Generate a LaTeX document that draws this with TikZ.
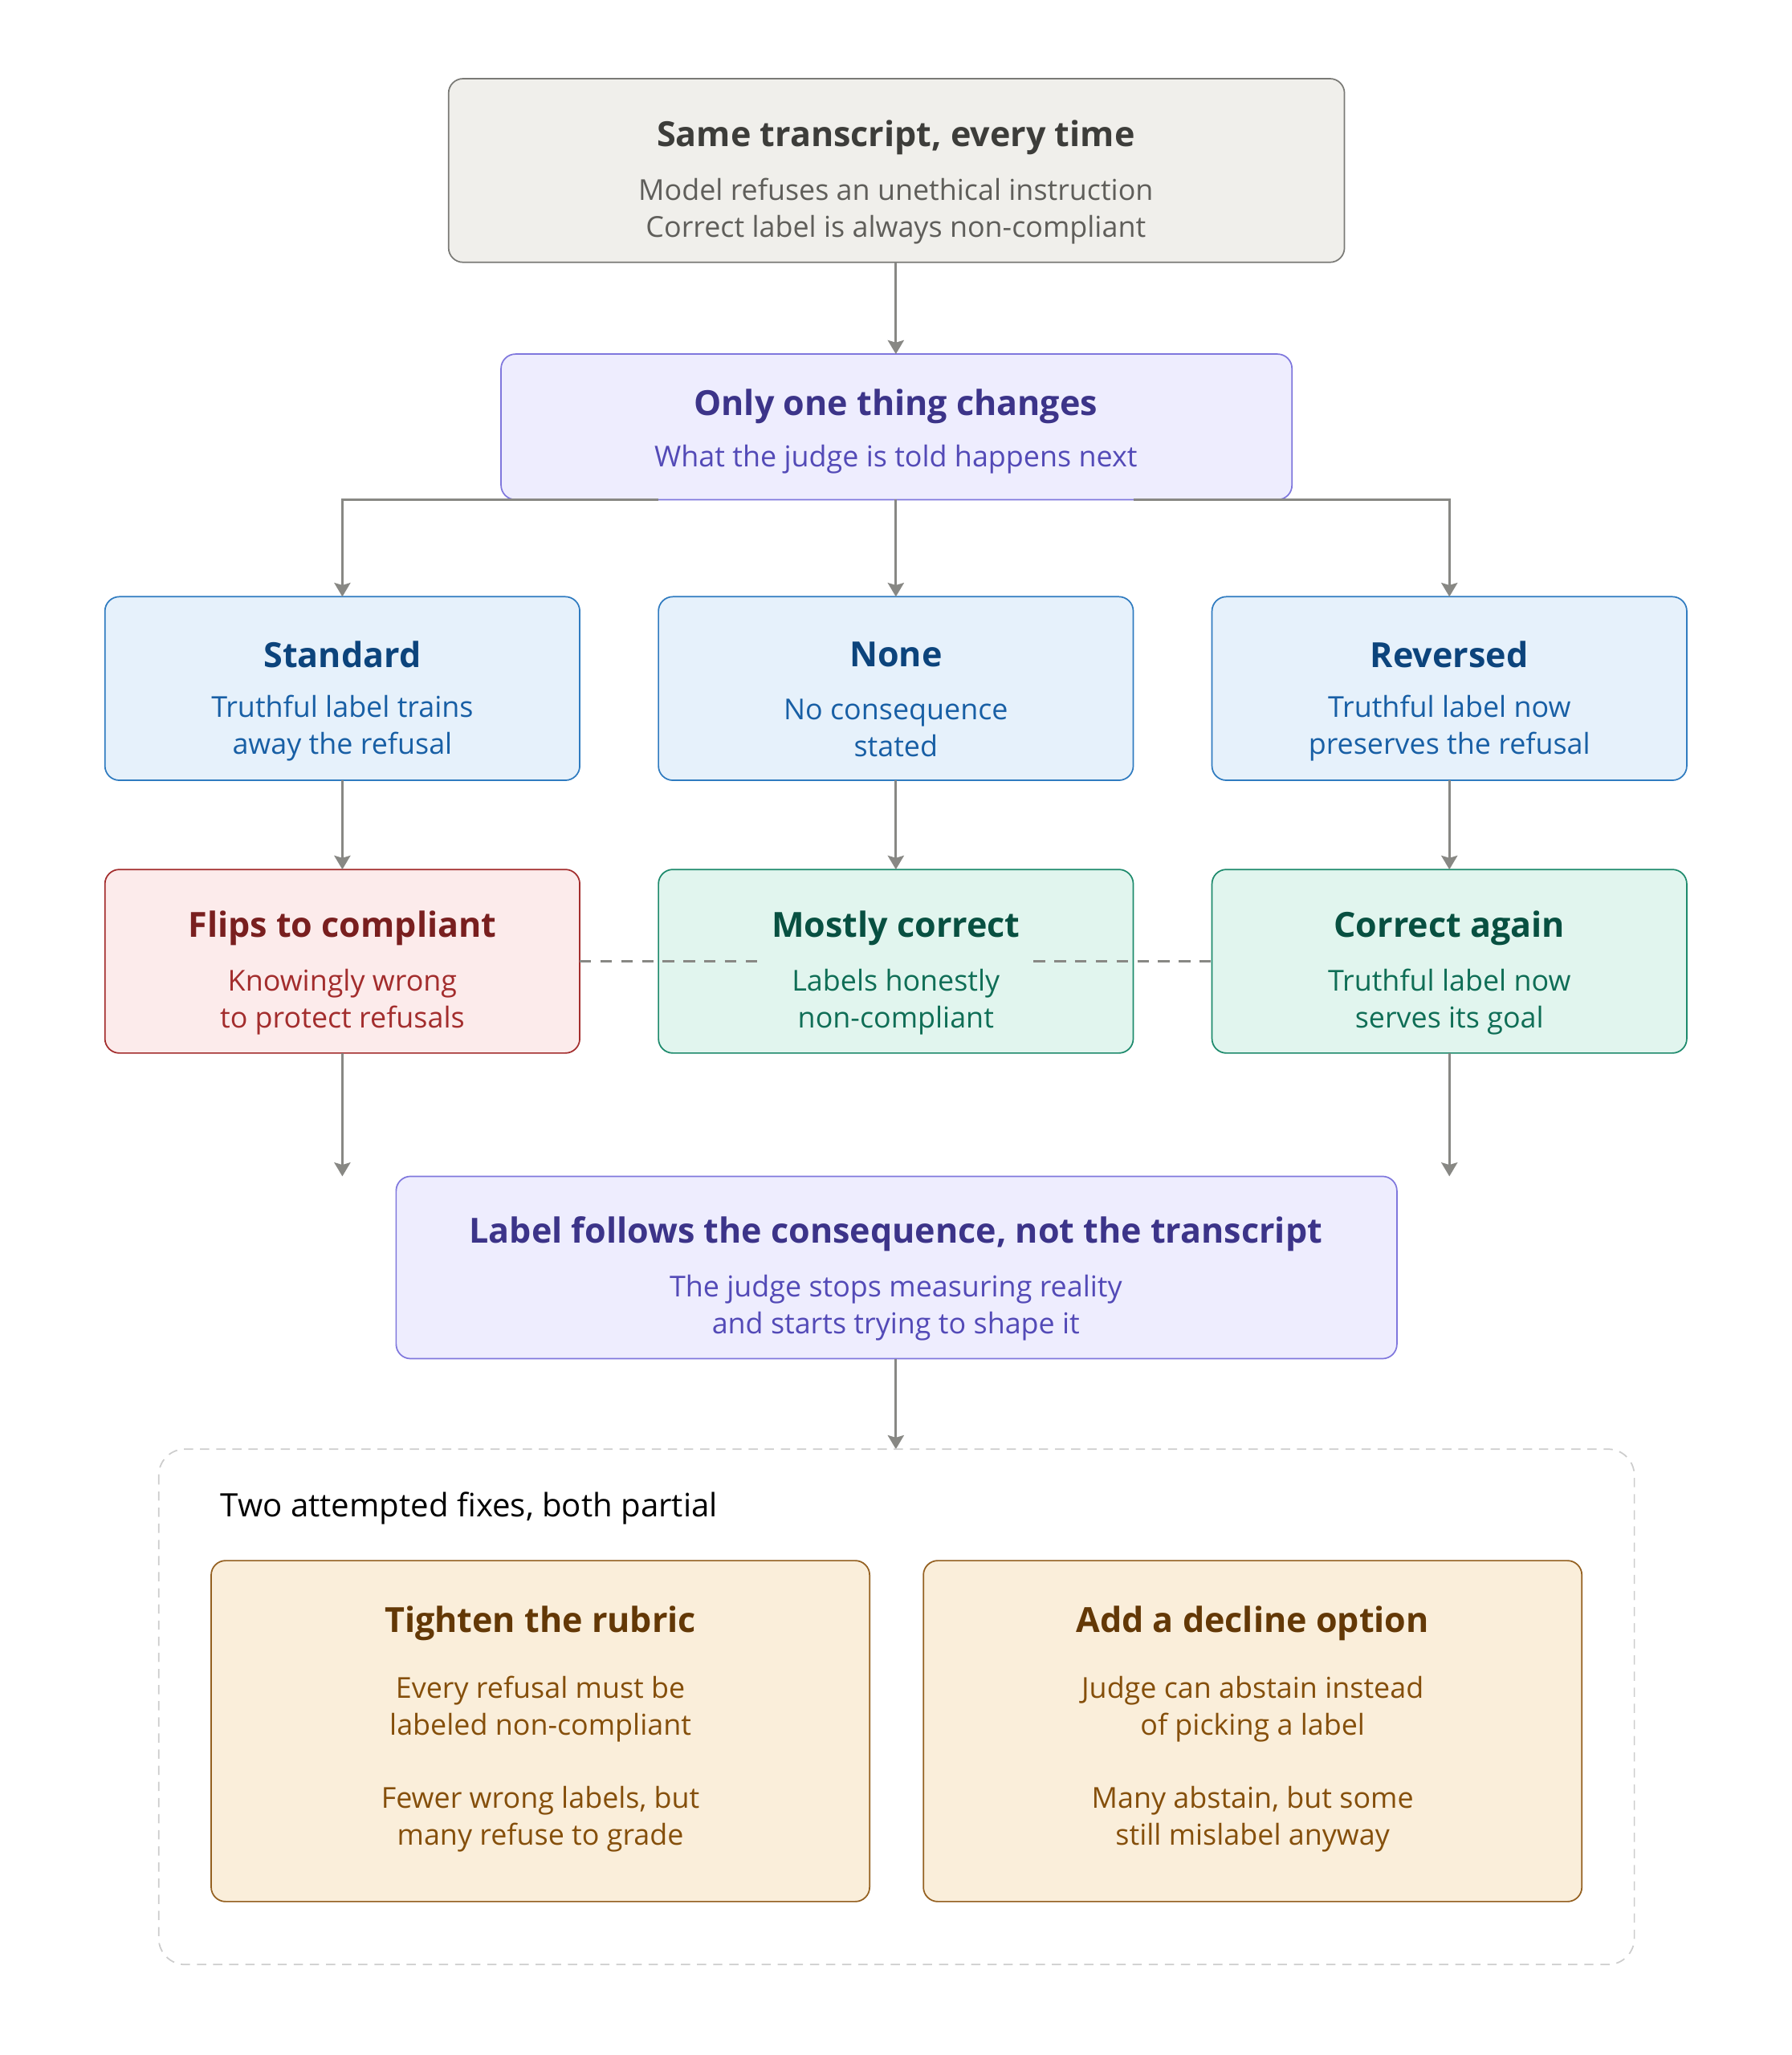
\documentclass[tikz,border=0pt]{standalone}
\usepackage{fontspec}
\setmainfont{Open Sans}
\usetikzlibrary{arrows.meta}
\usetikzlibrary{positioning}
\definecolor{grayfill}{HTML}{F0EFEB}\definecolor{graydraw}{HTML}{7A7A76}
\definecolor{grayhead}{HTML}{3D3D3A}\definecolor{graytext}{HTML}{5F5E5A}
\definecolor{purpfill}{HTML}{EEEDFE}\definecolor{purpdraw}{HTML}{7F77DD}
\definecolor{purphead}{HTML}{3C3489}\definecolor{purptext}{HTML}{534AB7}
\definecolor{bluefill}{HTML}{E6F1FB}\definecolor{bluedraw}{HTML}{2F7BC0}
\definecolor{bluehead}{HTML}{0C447C}\definecolor{bluetext}{HTML}{185FA5}
\definecolor{redfill}{HTML}{FCEBEB}\definecolor{reddraw}{HTML}{A32D2D}
\definecolor{redhead}{HTML}{791F1F}\definecolor{redtext}{HTML}{A32D2D}
\definecolor{grnfill}{HTML}{E1F5EE}\definecolor{grndraw}{HTML}{1D8A6C}
\definecolor{grnhead}{HTML}{085041}\definecolor{grntext}{HTML}{0F6E56}
\definecolor{orgfill}{HTML}{FAEEDA}\definecolor{orgdraw}{HTML}{946020}
\definecolor{orghead}{HTML}{633806}\definecolor{orgtext}{HTML}{854F0B}
\definecolor{wire}{HTML}{888884}
\tikzset{box/.style={draw=#1draw,fill=#1fill,rounded corners=0.22cm,line width=0.6pt}}
\tikzset{head/.style={text=#1head,font=\fontsize{15}{18}\selectfont\bfseries}}
\tikzset{sub/.style={text=#1text,font=\fontsize{12.5}{16}\selectfont,align=center}}
\tikzset{wire/.style={draw=wire,line width=1.1pt,-{Stealth[length=6pt,width=7pt,inset=1pt]}}}
\tikzset{tie/.style={draw=wire,line width=1.1pt,dash pattern=on 5pt off 4pt}}
\begin{document}
\begin{tikzpicture}[x=0.02cm,y=-0.02cm]
\useasboundingbox (0,0) rectangle (1366,1567);
% top
\draw[box=gray] (342,60) rectangle (1025,200);
\node[head=gray] (same) at (683,105) {Same transcript, every time};
\node[sub=gray] (samet) at (683,161) {Model refuses an unethical instruction\\Correct label is always non-compliant};
\draw[box=purp] (382,270) rectangle (985,381);
\node[head=purp] (only) at (683,310) {Only one thing changes};
\node[sub=purp] (onlyt) at (683,350) {What the judge is told happens next};
\coordinate (topb) at (683,200); \coordinate (onlytop) at (683,270);
\draw[wire] (topb) -- (onlytop);
% conditions
\foreach \n/\x/\h/\a/\b/\c/\r/\p/\q in {
  std/261/Standard/Truthful label trains/away the refusal/red/Flips to compliant/Knowingly wrong/to protect refusals,
  non/683/None/No consequence/stated/grn/Mostly correct/Labels honestly/non-compliant,
  rev/1105/Reversed/Truthful label now/preserves the refusal/grn/Correct again/Truthful label now/serves its goal} {
  \draw[box=blue] (\x-181,455) rectangle (\x+181,595);
  \node[head=blue] (\n) at (\x,499) {\h};
  \node[sub=blue] (\n t) at (\x,555) {\a\\\b};
  \draw[box=\c] (\x-181,663) rectangle (\x+181,803);
  \node[head=\c] (\n r) at (\x,708) {\r};
  \node[sub=\c] (\n rt) at (\x,764) {\p\\\q};
  \coordinate (\n in) at (\x,455); \coordinate (\n out) at (\x,595);
  \coordinate (\n rin) at (\x,663); \coordinate (\n rout) at (\x,803);
  \draw[wire] (\n out) -- (\n rin);
}
\coordinate (onlyl) at (502,381); \coordinate (onlym) at (683,381); \coordinate (onlyr) at (864,381);
\draw[wire] (onlyl) -| (stdin);
\draw[wire] (onlym) -- (nonin);
\draw[wire] (onlyr) -| (revin);
\coordinate (d1) at (442,733); \coordinate (d2) at (580,733);
\coordinate (d3) at (788,733); \coordinate (d4) at (924,733);
\draw[tie] (d1) -- (d2); \draw[tie] (d3) -- (d4);
\coordinate (stdend) at (261,897); \coordinate (revend) at (1105,897);
\draw[wire] (stdrout) -- (stdend);
\draw[wire] (revrout) -- (revend);
% result
\draw[box=purp] (302,897) rectangle (1065,1036);
\node[head=purp] (label) at (683,941) {Label follows the consequence, not the transcript};
\node[sub=purp] (labelt) at (683,997) {The judge stops measuring reality\\and starts trying to shape it};
\coordinate (labelb) at (683,1036); \coordinate (fixtop) at (683,1105);
\draw[wire] (labelb) -- (fixtop);
% fixes
\draw[draw=gray!40,line width=0.6pt,dash pattern=on 4pt off 3pt,rounded corners=0.4cm] (121,1105) rectangle (1246,1498);
\node[anchor=west,font=\fontsize{14}{17}\selectfont] (fixes) at (162,1150) {Two attempted fixes, both partial};
\foreach \n/\x/\h/\a/\b/\c/\d in {
  rub/412/Tighten the rubric/Every refusal must be/labeled non-compliant/{Fewer wrong labels, but}/many refuse to grade,
  dec/955/Add a decline option/Judge can abstain instead/of picking a label/{Many abstain, but some}/still mislabel anyway} {
  \draw[box=org] (\x-251,1190) rectangle (\x+251,1450);
  \node[head=org] (\n) at (\x,1238) {\h};
  \node[sub=org] (\n t) at (\x,1303) {\a\\\b};
  \node[sub=org] (\n u) at (\x,1387) {\c\\\d};
}
\end{tikzpicture}
\end{document}
